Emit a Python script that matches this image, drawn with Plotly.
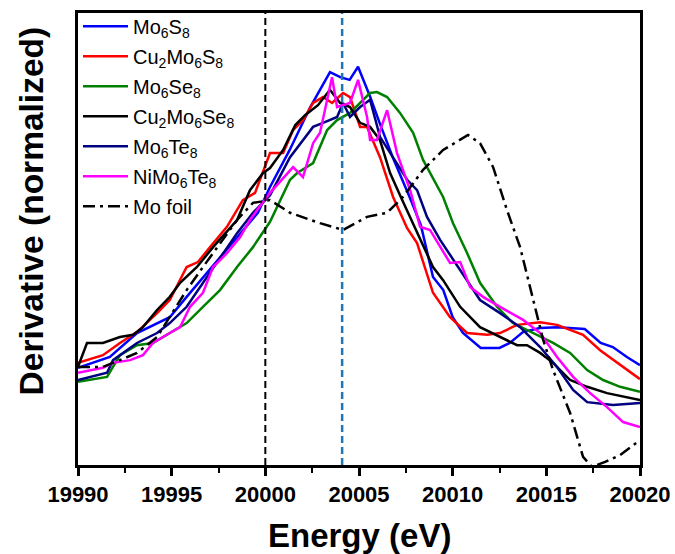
import plotly.graph_objects as go

# ---- data ----
e_mo6s8 = [19990, 19991.7, 19993.15, 19994.9, 19995.8, 19996.7, 19997.6, 19998.8, 19999.6, 20000.25,
           20001.3, 20002.4, 20003.45, 20004.0, 20004.5, 20004.95, 20005.6, 20006.1, 20006.8, 20007.7,
           20008.3, 20008.95, 20009.5, 20010.0, 20010.55, 20011.5, 20012.5, 20013.05, 20013.75, 20014.65,
           20015.6, 20017.05, 20017.9, 20018.55, 20019.3, 20020]
d_mo6s8 = [0.215, 0.239, 0.292, 0.327, 0.372, 0.416, 0.460, 0.520, 0.558, 0.615,
           0.697, 0.792, 0.869, 0.858, 0.852, 0.881, 0.814, 0.757, 0.681, 0.593,
           0.531, 0.416, 0.387, 0.327, 0.292, 0.259, 0.259, 0.270, 0.294, 0.303,
           0.305, 0.301, 0.270, 0.261, 0.239, 0.221]

e_cu2mo6s8 = [19990, 19991.33, 19992.24, 19993.15, 19994.22, 19994.9, 19995.8, 19996.4, 19997.05, 19997.95,
              19998.8, 19999.45, 20000.25, 20000.95, 20001.48, 20002.01, 20002.55, 20003.08, 20003.56, 20004.15,
              20004.52, 20005.06, 20005.43, 20006.12, 20006.82, 20007.57, 20008.1, 20008.95, 20009.86, 20010.77,
              20011.84, 20012.53, 20013.44, 20014.67, 20015.57, 20016.96, 20017.87, 20018.94, 20020]
d_cu2mo6s8 = [0.226, 0.243, 0.270, 0.294, 0.336, 0.365, 0.438, 0.449, 0.482, 0.527,
              0.586, 0.602, 0.690, 0.690, 0.741, 0.763, 0.801, 0.814, 0.801, 0.823,
              0.814, 0.748, 0.748, 0.681, 0.593, 0.524, 0.491, 0.381, 0.327, 0.292,
              0.288, 0.292, 0.310, 0.316, 0.310, 0.288, 0.254, 0.221, 0.190]

e_mo6se8 = [19990, 19991.55, 19992.24, 19993.15, 19994.0, 19994.9, 19995.8, 19996.67, 19997.58, 19998.49,
            19999.34, 20000.25, 20001.32, 20001.7, 20002.55, 20003.3, 20003.83, 20004.52, 20005.22, 20005.59,
            20005.96, 20006.5, 20007.19, 20007.89, 20008.42, 20009.49, 20010.02, 20010.77, 20011.46, 20012.37,
            20013.22, 20014.29, 20015.36, 20016.27, 20017.18, 20018.03, 20018.94, 20020]
d_mo6se8 = [0.184, 0.195, 0.243, 0.265, 0.270, 0.292, 0.314, 0.350, 0.387, 0.438,
            0.482, 0.538, 0.631, 0.646, 0.668, 0.741, 0.763, 0.779, 0.808, 0.823,
            0.825, 0.814, 0.779, 0.735, 0.675, 0.593, 0.535, 0.469, 0.403, 0.350,
            0.314, 0.292, 0.270, 0.248, 0.210, 0.188, 0.173, 0.162]

e_cu2mo6se8 = [19990, 19990.48, 19991.33, 19992.24, 19992.94, 19993.47, 19994.22, 19994.9, 19995.45, 19996.35,
               19997.21, 19998.49, 19999.18, 19999.88, 20000.25, 20000.95, 20001.6, 20002.12, 20002.81, 20003.45,
               20003.99, 20004.52, 20005.06, 20005.59, 20006.12, 20006.66, 20007.19, 20008.95, 20009.49, 20010.4,
               20011.46, 20012.53, 20013.44, 20013.97, 20014.67, 20015.36, 20016.27, 20017.18, 20018.24, 20020]
d_cu2mo6se8 = [0.217, 0.270, 0.270, 0.283, 0.288, 0.305, 0.343, 0.372, 0.403, 0.438,
               0.482, 0.542, 0.608, 0.646, 0.657, 0.697, 0.752, 0.774, 0.796, 0.830,
               0.801, 0.792, 0.757, 0.748, 0.719, 0.646, 0.597, 0.438, 0.409, 0.350,
               0.305, 0.283, 0.265, 0.265, 0.248, 0.226, 0.188, 0.173, 0.159, 0.144]

e_mo6te8 = [19990, 19991.55, 19991.87, 19993.15, 19994.22, 19994.9, 19995.8, 19996.67, 19997.58, 19998.49,
            19999.34, 20000.25, 20001.32, 20002.55, 20003.08, 20003.83, 20004.15, 20004.52, 20005.06, 20005.59,
            20006.12, 20006.82, 20007.57, 20008.1, 20008.63, 20009.33, 20010.4, 20011.46, 20012.53, 20013.6,
            20014.67, 20015.57, 20016.43, 20017.18, 20018.56, 20020]
d_mo6te8 = [0.188, 0.204, 0.232, 0.270, 0.292, 0.314, 0.350, 0.403, 0.460, 0.513,
            0.558, 0.597, 0.681, 0.748, 0.757, 0.770, 0.801, 0.770, 0.792, 0.808,
            0.726, 0.681, 0.631, 0.608, 0.549, 0.498, 0.431, 0.365, 0.336, 0.305,
            0.261, 0.217, 0.166, 0.139, 0.133, 0.137]

e_nimo6te8 = [19990, 19991.33, 19991.87, 19992.78, 19993.47, 19994.0, 19994.9, 19995.45, 19995.98, 19996.67,
              19997.21, 19997.96, 19998.65, 19999.18, 19999.56, 20000.25, 20001.48, 20002.01, 20002.55, 20002.92,
              20003.56, 20003.83, 20004.52, 20004.95, 20005.43, 20005.59, 20005.96, 20006.5, 20007.03, 20007.73,
              20008.26, 20008.79, 20009.86, 20010.4, 20010.93, 20011.62, 20012.53, 20013.76, 20014.67, 20015.57,
              20016.43, 20017.34, 20018.24, 20019.1, 20020]
d_nimo6te8 = [0.204, 0.215, 0.226, 0.232, 0.243, 0.270, 0.292, 0.305, 0.350, 0.381,
              0.438, 0.469, 0.504, 0.542, 0.564, 0.602, 0.659, 0.637, 0.712, 0.735,
              0.858, 0.792, 0.801, 0.852, 0.770, 0.719, 0.719, 0.785, 0.690, 0.608,
              0.527, 0.520, 0.447, 0.449, 0.394, 0.372, 0.350, 0.321, 0.292, 0.239,
              0.195, 0.159, 0.128, 0.095, 0.084]

e_mofoil = [19990, 19991.33, 19992.24, 19993.15, 19994.22, 19994.9, 19995.8, 19996.67, 19997.58, 19998.49,
            19999.34, 20000.25, 20001.32, 20002.92, 20004.15, 20005.43, 20006.5, 20007.35, 20008.42, 20009.49,
            20010.82, 20011.46, 20012.16, 20012.9, 20013.6, 20014.29, 20014.83, 20015.36, 20016.27, 20016.96,
            20017.44, 20018.14, 20018.94, 20020]
d_mofoil = [0.217, 0.217, 0.232, 0.248, 0.283, 0.327, 0.387, 0.438, 0.491, 0.542,
            0.580, 0.586, 0.558, 0.535, 0.520, 0.549, 0.558, 0.593, 0.653, 0.697,
            0.730, 0.712, 0.659, 0.564, 0.482, 0.365, 0.277, 0.210, 0.115, 0.018,
            -0.004, 0.007, 0.022, 0.055]

ref_lines = [20000.0, 20004.1]

series = [
    ("Mo<sub>6</sub>S<sub>8</sub>", e_mo6s8, d_mo6s8, "#0000ff", "solid"),
    ("Cu<sub>2</sub>Mo<sub>6</sub>S<sub>8</sub>", e_cu2mo6s8, d_cu2mo6s8, "#ff0000", "solid"),
    ("Mo<sub>6</sub>Se<sub>8</sub>", e_mo6se8, d_mo6se8, "#008000", "solid"),
    ("Cu<sub>2</sub>Mo<sub>6</sub>Se<sub>8</sub>", e_cu2mo6se8, d_cu2mo6se8, "#000000", "solid"),
    ("Mo<sub>6</sub>Te<sub>8</sub>", e_mo6te8, d_mo6te8, "#000080", "solid"),
    ("NiMo<sub>6</sub>Te<sub>8</sub>", e_nimo6te8, d_nimo6te8, "#ff00ff", "solid"),
    ("Mo foil", e_mofoil, d_mofoil, "#000000", "12px,5px,3px,5px"),
]

fig = go.Figure()
for i, (name, x, y, c, dash) in enumerate(series):
    fig.add_trace(go.Scatter(x=x, y=y, mode="lines", name=name, legendgroup=f"g{i}",
                             line=dict(color=c, width=2.5, dash=dash)))

fig.add_vline(x=ref_lines[0], line=dict(color="#000000", width=2, dash="7px,4px"))
fig.add_vline(x=ref_lines[1], line=dict(color="#1f77b4", width=2.5, dash="7px,4px"))

font_family = "Arial, Liberation Sans, sans-serif"
fig.update_layout(
    width=675, height=554,
    margin=dict(l=78, r=35, t=13, b=89, autoexpand=False),
    plot_bgcolor="white", paper_bgcolor="white",
    font=dict(family=font_family, color="black"),
    showlegend=True,
    legend=dict(x=0.0, y=1.014, xanchor="left", yanchor="top",
                bgcolor="rgba(0,0,0,0)", font=dict(size=20, family=font_family),
                tracegroupgap=1, itemwidth=45),
    xaxis=dict(range=[19990, 20020], dtick=5, tick0=19990, tickformat="d", automargin=False,
               showline=True, linewidth=3, linecolor="black", mirror=True,
               ticks="outside", ticklen=8, tickwidth=2.5, tickcolor="black",
               minor=dict(dtick=2.5, tick0=19990, ticks="outside", ticklen=5, tickwidth=2, tickcolor="black"),
               showgrid=False, zeroline=False,
               tickfont=dict(size=22, weight="bold")),
    yaxis=dict(range=[0, 1.0], automargin=False, showline=True, linewidth=3, linecolor="black", mirror=True,
               ticks="", showticklabels=False, showgrid=False, zeroline=False),
    annotations=[
        dict(text="Energy (eV)", xref="paper", yref="paper", x=0.5, y=-0.157,
             xanchor="center", yanchor="middle", showarrow=False,
             font=dict(size=33, weight="bold")),
        dict(text="Derivative (normalized)", xref="paper", yref="paper", x=-0.082, y=0.563,
             xanchor="center", yanchor="middle", showarrow=False, textangle=-90,
             font=dict(size=33.5, weight="bold")),
    ],
)

fig.write_html("out.html")
